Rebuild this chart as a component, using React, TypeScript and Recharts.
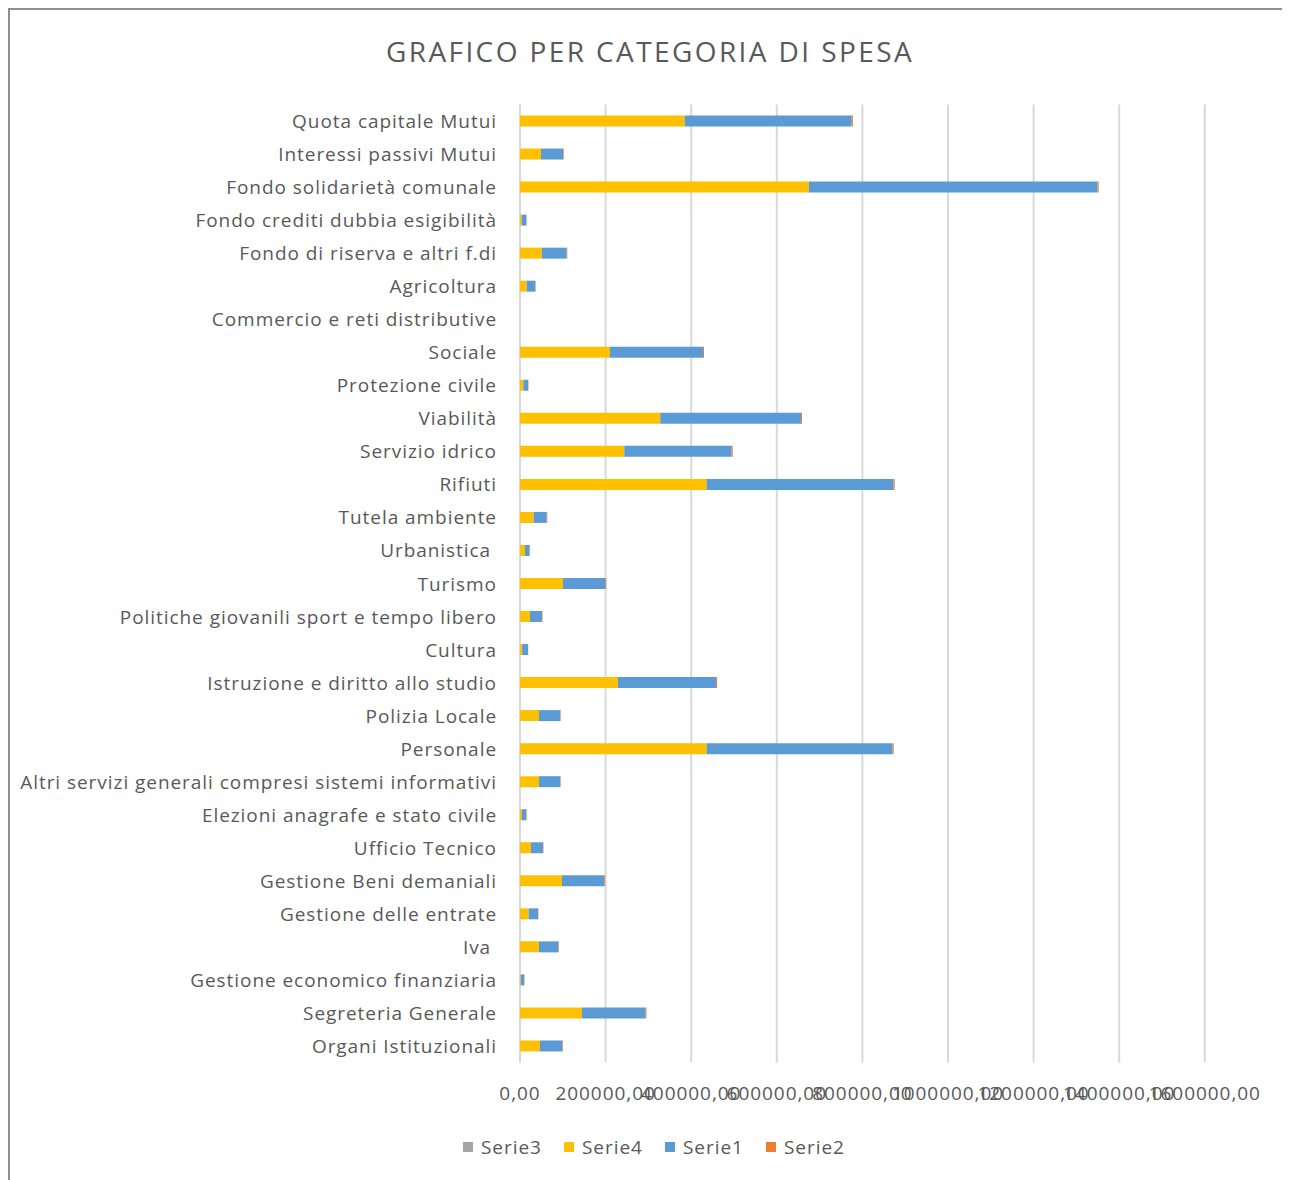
import React from "react";
import { BarChart, Bar, XAxis, YAxis, CartesianGrid } from "recharts";

const categories = [
  "Quota capitale Mutui",
  "Interessi passivi Mutui",
  "Fondo solidarietà comunale",
  "Fondo crediti dubbia esigibilità",
  "Fondo di riserva e altri f.di",
  "Agricoltura",
  "Commercio e reti distributive",
  "Sociale",
  "Protezione civile",
  "Viabilità",
  "Servizio idrico",
  "Rifiuti",
  "Tutela ambiente",
  "Urbanistica ",
  "Turismo",
  "Politiche giovanili sport e tempo libero",
  "Cultura",
  "Istruzione e diritto allo studio",
  "Polizia Locale",
  "Personale",
  "Altri servizi generali compresi sistemi informativi",
  "Elezioni anagrafe e stato civile",
  "Ufficio Tecnico",
  "Gestione Beni demaniali",
  "Gestione delle entrate",
  "Iva ",
  "Gestione economico finanziaria",
  "Segreteria Generale",
  "Organi Istituzionali",
];

const serie3 = [0, 0, 0, 0, 0, 0, 0, 0, 0, 0, 0, 0, 0, 0, 0, 0, 0, 0, 0, 0, 0, 0, 0, 0, 0, 0, 0, 0, 0];
const serie4 = [385000, 49000, 675000, 4000, 51000, 15600, 0, 210000, 7800, 327800, 243700, 436100, 32000, 11700, 100400, 23400, 5000, 228900, 44400, 436100, 44400, 4700, 25700, 98100, 20200, 44400, 2000, 144800, 46700];
const serie1 = [389800, 52000, 674500, 11000, 58000, 20000, 0, 217500, 10900, 328600, 250800, 436900, 30300, 10900, 99700, 28000, 13700, 229000, 49000, 434500, 49000, 10000, 28000, 98900, 21800, 45100, 8100, 148700, 52200];
const serie2 = [3000, 1500, 2500, 500, 1500, 1000, 0, 2500, 1000, 2500, 2500, 2500, 1500, 500, 1500, 1000, 500, 2500, 1500, 2500, 1500, 1000, 1000, 2000, 1000, 1500, 500, 2000, 1500];

const xTicks = [0, 200000, 400000, 600000, 800000, 1000000, 1200000, 1400000, 1600000];

const seriesNames = ["Serie3", "Serie4", "Serie1", "Serie2"];
const seriesColors = ["#A5A5A5", "#FFC000", "#5B9BD5", "#ED7D31"];
const seriesKeys = ["s3", "s4", "s1", "s2"];

const data = categories.map((c, i) => ({
  name: c,
  s3: serie3[i],
  s4: serie4[i],
  s1: serie1[i],
  s2: serie2[i],
}));

const FONT = "'Open Sans', 'Noto Sans', sans-serif";
const TEXT = "#595959";
const LABEL_SIZE = 19;
const LABEL_SPACING = 0.95;

const fmt = (v: number) => `${v.toFixed(2).replace(".", ",")}`;

const YTick = (props: any) => {
  const { x, y, payload } = props;
  return (
    <text
      x={x - 15}
      y={y}
      textAnchor="end"
      dominantBaseline="central"
      fill={TEXT}
      fontSize={LABEL_SIZE}
      letterSpacing={LABEL_SPACING}
      fontFamily={FONT}
      style={{ whiteSpace: "pre" }}
    >
      {payload.value}
    </text>
  );
};

const XTick = (props: any) => {
  const { x, y, payload } = props;
  return (
    <text
      x={x}
      y={y + 22}
      textAnchor="middle"
      dominantBaseline="central"
      fill={TEXT}
      fontSize={LABEL_SIZE}
      letterSpacing={LABEL_SPACING}
      fontFamily={FONT}
    >
      {fmt(payload.value)}
    </text>
  );
};

export default function App() {
  return (
    <div
      style={{
        position: "relative",
        width: 1282,
        height: 1172,
        background: "#fff",
        fontFamily: FONT,
      }}
    >
      <div style={{ position: "absolute", left: 0, top: 0, width: 1282, height: 2, background: "#8f8f8f", zIndex: 5 }} />
      <div style={{ position: "absolute", left: 0, top: 0, width: 2, height: 1172, background: "#8f8f8f", zIndex: 5 }} />
      <div
        style={{
          position: "absolute",
          left: 0,
          top: 23,
          width: 1284,
          textAlign: "center",
          fontSize: 28,
          letterSpacing: 2.4,
          color: TEXT,
          fontFamily: FONT,
          lineHeight: "40px",
        }}
      >
        GRAFICO PER CATEGORIA DI SPESA
      </div>
      <BarChart
        width={1280}
        height={1170}
        data={data}
        layout="vertical"
        margin={{ top: 96.5, right: 83.2, bottom: 85.5, left: 0 }}
        barSize={11}
        style={{ position: "absolute", left: 0, top: 0 }}
      >
        <CartesianGrid horizontal={false} stroke="#d9d9d9" strokeWidth={2} />
        <XAxis
          type="number"
          domain={[0, 1600000]}
          ticks={xTicks}
          interval={0}
          axisLine={false}
          tickLine={false}
          tick={<XTick />}
          height={30}
        />
        <YAxis
          type="category"
          dataKey="name"
          width={512}
          axisLine={false}
          tickLine={false}
          interval={0}
          tick={<YTick />}
        />
        {seriesKeys.map((k, i) => (
          <Bar
            key={k}
            dataKey={k}
            name={seriesNames[i]}
            stackId="a"
            fill={seriesColors[i]}
            isAnimationActive={false}
          />
        ))}
      </BarChart>
      {seriesNames.map((n, i) => (
        <div
          key={n}
          style={{
            position: "absolute",
            top: 1124,
            left: 455 + i * 101,
            height: 30,
            display: "flex",
            alignItems: "center",
            gap: 8,
            fontSize: LABEL_SIZE,
            letterSpacing: LABEL_SPACING,
            color: TEXT,
            fontFamily: FONT,
            whiteSpace: "nowrap",
          }}
        >
          <span style={{ display: "inline-block", width: 10, height: 10, background: seriesColors[i] }} />
          <span>{n}</span>
        </div>
      ))}
    </div>
  );
}
